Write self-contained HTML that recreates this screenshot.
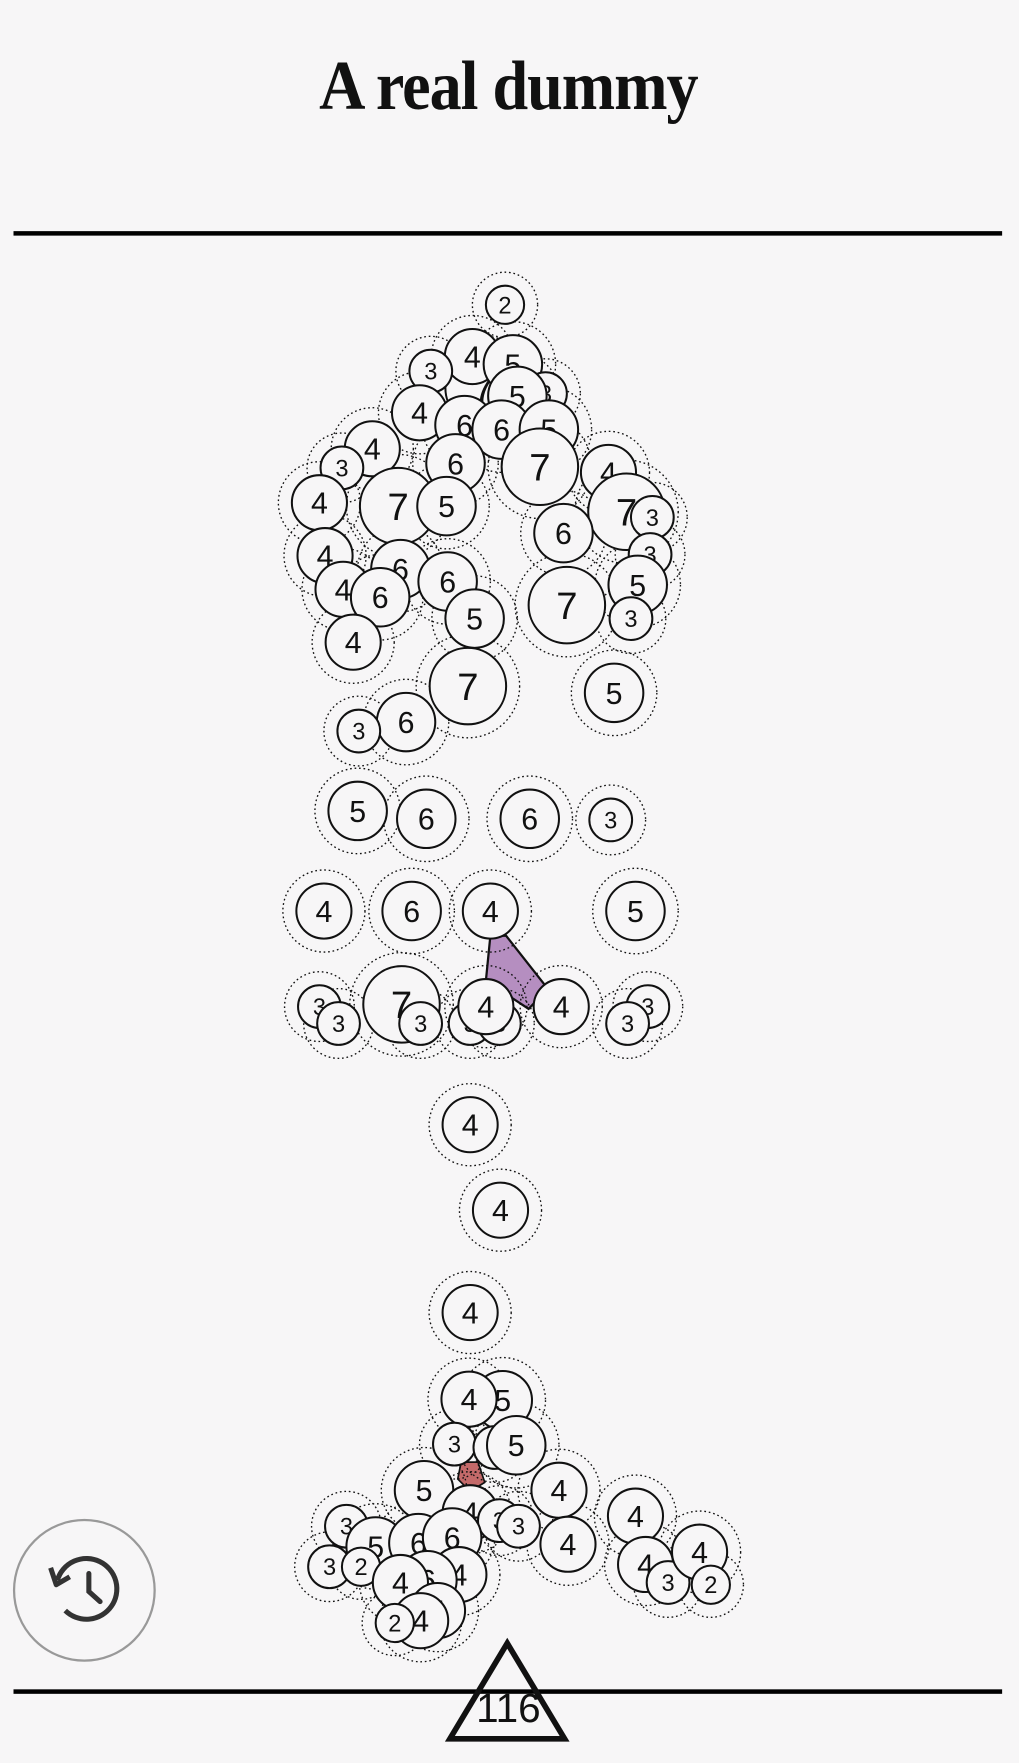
<!DOCTYPE html>
<html><head><meta charset="utf-8"><style>
html,body{margin:0;padding:0;background:#f7f6f7;}
svg{display:block}
</style></head><body>
<svg id="chart" width="1019" height="1763" viewBox="0 0 906 1567.5" xmlns="http://www.w3.org/2000/svg">
<rect x="0" y="0" width="906" height="1567.5" fill="#f7f6f7"/>
<text x="452" y="97" text-anchor="middle" font-family="'Liberation Serif',serif" font-weight="bold" font-size="62" fill="#111" transform="translate(452 0) scale(0.92 1) translate(-452 0)" style="letter-spacing:-1px">A real dummy</text>
<rect x="12" y="205.5" width="879" height="4" fill="#000"/>
<rect x="12" y="1502" width="879" height="4" fill="#000"/>
<polygon points="436,832 450,832 487,879 470,897 432,872" fill="#b58ec0" stroke="#111" stroke-width="2"/>
<polygon points="410,1300 425,1300 431,1318 418,1326 407,1315" fill="#c46a6a" stroke="#111" stroke-width="1.5"/>
<g id="nodes"></g>
<g>
<polygon points="451,1461 502,1546 400,1546" fill="none" stroke="#111" stroke-width="5"/>
<text x="452" y="1531" text-anchor="middle" font-family="'Liberation Sans',sans-serif" font-size="36" fill="#111">116</text>
</g>
<g>
<circle cx="75" cy="1414" r="62.5" fill="#f7f6f7" stroke="#999" stroke-width="2"/>
<path d="M58,1432 A27,27 0 1 0 51,1405" fill="none" stroke="#333" stroke-width="4.5"/>
<path d="M45,1394 L50,1409 L62,1402" fill="none" stroke="#333" stroke-width="4.5" stroke-linejoin="round"/>
<path d="M79,1399 L79,1415 L89,1424" fill="none" stroke="#333" stroke-width="4.5" stroke-linecap="round"/>
</g>
</svg>
<script>
const xs=[430,449,420,456,383,485,460,373,413,446,488,480,331,304,405,541,284,354,397,557,580,501,289,578,356,398,305,338,567,504,422,561,314,416,546,361,319,318,379,471,543,288,366,436,565,284,301,357,374,418,444,432,499,576,558,418,445,418,447,417,404,440,459,377,497,418,444,461,505,565,308,334,372,402,293,321,408,380,356,389,374,351,574,594,622,632];
const ys=[345,271,317,324,330,350,352,367,378,382,382,415,399,416,412,420,447,450,450,455,460,474,494,493,506,517,524,531,520,538,550,550,571,610,616,642,650,721,728,728,729,810,810,810,810,895,910,893,910,910,910,895,895,895,910,1000,1076,1167,1245,1244,1284,1287,1285,1325,1325,1345,1352,1357,1373,1348,1357,1375,1372,1367,1393,1393,1400,1405,1407,1432,1441,1443,1391,1407,1380,1409];
const vals=[7,2,4,5,3,3,5,4,6,6,5,7,4,3,6,4,4,7,5,7,3,6,4,3,6,6,4,6,5,7,5,3,4,7,5,6,3,5,6,6,3,4,6,4,5,3,3,7,3,3,3,4,4,3,3,4,4,4,5,4,3,3,5,5,4,4,3,3,4,4,3,5,6,6,3,2,4,6,4,4,4,2,4,3,4,2];
const g=document.getElementById('nodes');
const NS='http://www.w3.org/2000/svg';
const RT={2:17,3:19,4:24.5,5:26,6:26,7:34};
const rad=v=>RT[v]||(11+3.3*v);
for(let i=0;i<vals.length;i++){
  const o=document.createElementNS(NS,'circle');
  o.setAttribute('cx',xs[i]);o.setAttribute('cy',ys[i]);o.setAttribute('r',rad(vals[i])+12);
  o.setAttribute('fill','none');o.setAttribute('stroke','#111');o.setAttribute('stroke-width','1.2');o.setAttribute('stroke-dasharray','1.5 2.5');
  
  
  g.appendChild(o);
}
for(let i=0;i<vals.length;i++){
  const grp=document.createElementNS(NS,'g');
  
  
  const r=rad(vals[i]);
  const c=document.createElementNS(NS,'circle');
  c.setAttribute('cx',xs[i]);c.setAttribute('cy',ys[i]);c.setAttribute('r',r);
  c.setAttribute('fill','#f7f6f7');c.setAttribute('stroke','#111');c.setAttribute('stroke-width','1.8');
  grp.appendChild(c);
  const fs=vals[i]===7?34:(vals[i]<=3?21:27);
  const t=document.createElementNS(NS,'text');
  t.setAttribute('x',xs[i]);t.setAttribute('y',ys[i]+fs*0.36);
  t.setAttribute('text-anchor','middle');t.setAttribute('font-family',"'Liberation Sans',sans-serif");
  t.setAttribute('font-size',fs);t.setAttribute('fill','#111');
  
  
  t.textContent=vals[i];
  grp.appendChild(t);
  g.appendChild(grp);
}
</script>
</body></html>
